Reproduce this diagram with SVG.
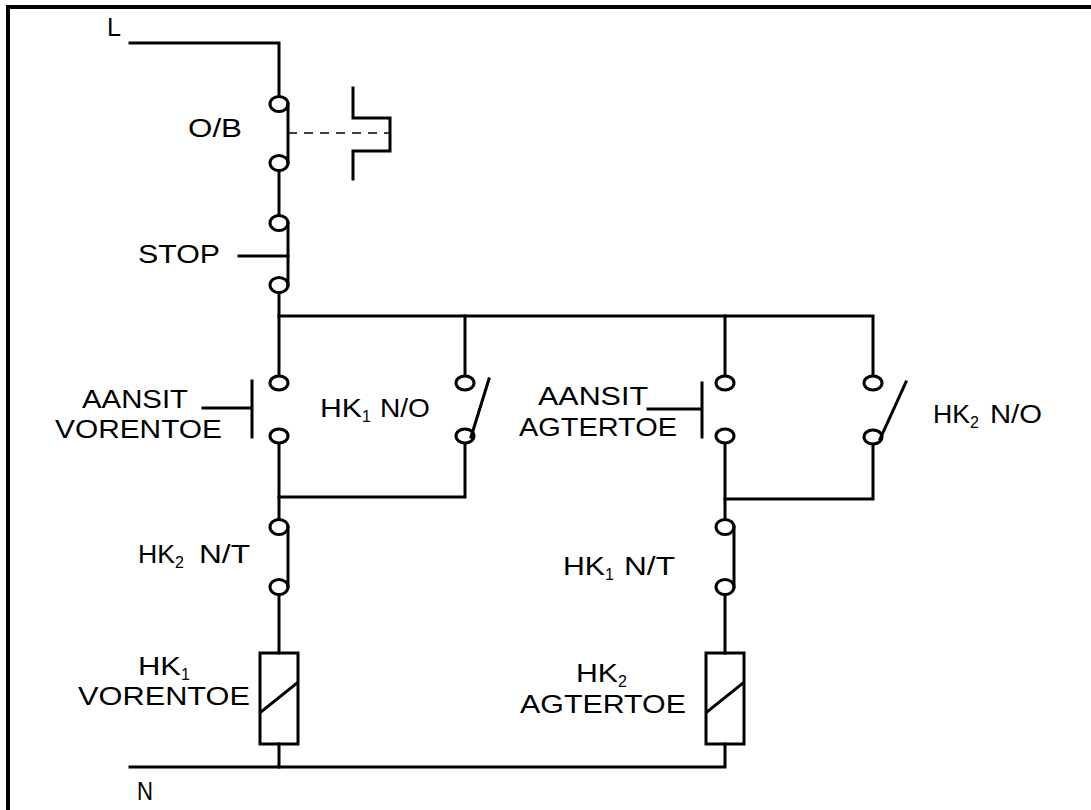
<svg xmlns="http://www.w3.org/2000/svg" width="1091" height="810" viewBox="0 0 1091 810">
<style>
.w{fill:none;stroke:#000;stroke-width:3;stroke-linecap:square;stroke-linejoin:miter}
.c{fill:#fff;stroke:#000;stroke-width:3}
.t{font-family:"Liberation Sans",Arial,sans-serif;font-size:25px;fill:#000}
.s{font-family:"Liberation Sans",Arial,sans-serif;font-size:16px;fill:#000}
.d{fill:none;stroke:#000;stroke-width:1.5;stroke-dasharray:9 7}
</style>
<rect x="0" y="0" width="1091" height="810" fill="#fff"/>
<rect x="8" y="7" width="1100" height="830" fill="none" stroke="#000" stroke-width="4"/>

<g id="connectors">
<path class="w" d="M130,43 H279 V96"/>
<path class="w" d="M279,171 V215"/>
<path class="w" d="M279,292 V375"/>
<path class="w" d="M279,316 H873 V375"/>
<path class="w" d="M465,316 V375"/>
<path class="w" d="M725,316 V375"/>
<path class="w" d="M279,444 V519"/>
<path class="w" d="M279,497 H465 V444"/>
<path class="w" d="M725,444 V519"/>
<path class="w" d="M725,499 H873 V445"/>
<path class="w" d="M279,595 V653"/>
<path class="w" d="M725,595 V653"/>
<path class="w" d="M279,744 V767"/>
<path class="w" d="M130,767 H725 V744"/>
</g>

<g id="L">
<text class="t" x="107" y="36" font-size="24" textLength="14" lengthAdjust="spacingAndGlyphs">L</text>
</g>

<g id="OB">
<ellipse class="c" cx="279" cy="104" rx="9" ry="7.5"/>
<ellipse class="c" cx="279" cy="163" rx="9" ry="7.5"/>
<path class="w" d="M288,104 V163"/>
<path class="d" d="M288,133 H390"/>
<path class="w" d="M353,88 V118 H390 V151 H353 V179"/>
<text class="t" x="188" y="137" font-size="24" textLength="54" lengthAdjust="spacingAndGlyphs">O/B</text>
</g>

<g id="STOP">
<ellipse class="c" cx="279" cy="223" rx="9" ry="7.5"/>
<ellipse class="c" cx="279" cy="285" rx="9" ry="7.5"/>
<path class="w" d="M288,223 V285"/>
<path class="w" d="M239,256 H288"/>
<text class="t" x="138" y="263" font-size="24" textLength="82" lengthAdjust="spacingAndGlyphs">STOP</text>
</g>

<g id="AANSIT-VORENTOE">
<ellipse class="c" cx="279" cy="383" rx="9" ry="7"/>
<ellipse class="c" cx="279" cy="436" rx="9" ry="7"/>
<path class="w" d="M252,381 V437 M203,408 H252"/>
<text class="t" x="82" y="408" textLength="106" lengthAdjust="spacingAndGlyphs">AANSIT</text>
<text class="t" x="55" y="438" textLength="167" lengthAdjust="spacingAndGlyphs">VORENTOE</text>
</g>

<g id="HK1-NO">
<ellipse class="c" cx="465" cy="383" rx="9" ry="7"/>
<ellipse class="c" cx="465" cy="436" rx="9" ry="7"/>
<path class="w" d="M471,437 L489,379"/>
<text class="t" x="320" y="417" textLength="42" lengthAdjust="spacingAndGlyphs">HK</text>
<text class="s" x="362" y="422">1</text>
<text class="t" x="380" y="417" textLength="50" lengthAdjust="spacingAndGlyphs">N/O</text>
</g>

<g id="AANSIT-AGTERTOE">
<ellipse class="c" cx="725" cy="383" rx="9" ry="7"/>
<ellipse class="c" cx="725" cy="436" rx="9" ry="7"/>
<path class="w" d="M702,383 V437 M648,409 H702"/>
<text class="t" x="538" y="405" textLength="110" lengthAdjust="spacingAndGlyphs">AANSIT</text>
<text class="t" x="519" y="436" textLength="158" lengthAdjust="spacingAndGlyphs">AGTERTOE</text>
</g>

<g id="HK2-NO">
<ellipse class="c" cx="873" cy="383" rx="9" ry="7"/>
<ellipse class="c" cx="873" cy="437" rx="9" ry="7"/>
<path class="w" d="M880,439 L906,382"/>
<text class="t" x="933" y="423" textLength="37" lengthAdjust="spacingAndGlyphs">HK</text>
<text class="s" x="970" y="428">2</text>
<text class="t" x="990" y="423" textLength="52" lengthAdjust="spacingAndGlyphs">N/O</text>
</g>

<g id="HK2-NT">
<ellipse class="c" cx="279" cy="527" rx="9" ry="7.5"/>
<ellipse class="c" cx="279" cy="587" rx="9" ry="7.5"/>
<path class="w" d="M288,527 V587"/>
<text class="t" x="138" y="563" textLength="37" lengthAdjust="spacingAndGlyphs">HK</text>
<text class="s" x="175" y="568">2</text>
<text class="t" x="199" y="563" textLength="51" lengthAdjust="spacingAndGlyphs">N/T</text>
</g>

<g id="HK1-NT">
<ellipse class="c" cx="725" cy="527" rx="9" ry="7.5"/>
<ellipse class="c" cx="725" cy="587" rx="9" ry="7.5"/>
<path class="w" d="M734,527 V587"/>
<text class="t" x="563" y="575" textLength="42" lengthAdjust="spacingAndGlyphs">HK</text>
<text class="s" x="605" y="580">1</text>
<text class="t" x="624" y="575" textLength="51" lengthAdjust="spacingAndGlyphs">N/T</text>
</g>

<g id="HK1-coil">
<rect class="w" x="260" y="653" width="38" height="91"/>
<path class="w" d="M261,712 L297,683"/>
<text class="t" x="138" y="675" textLength="43" lengthAdjust="spacingAndGlyphs">HK</text>
<text class="s" x="181" y="680">1</text>
<text class="t" x="78" y="705" textLength="172" lengthAdjust="spacingAndGlyphs">VORENTOE</text>
</g>

<g id="HK2-coil">
<rect class="w" x="706" y="653" width="38" height="91"/>
<path class="w" d="M707,712 L743,683"/>
<text class="t" x="576" y="682" textLength="42" lengthAdjust="spacingAndGlyphs">HK</text>
<text class="s" x="618" y="687">2</text>
<text class="t" x="520" y="713" textLength="166" lengthAdjust="spacingAndGlyphs">AGTERTOE</text>
</g>

<g id="N">
<text class="t" x="137" y="800" font-size="24" textLength="16" lengthAdjust="spacingAndGlyphs">N</text>
</g>
</svg>
